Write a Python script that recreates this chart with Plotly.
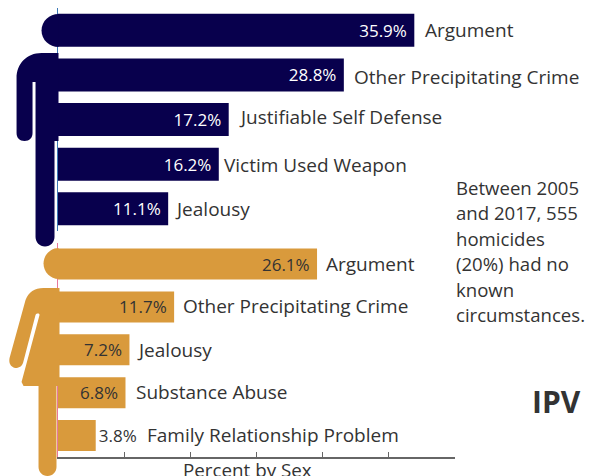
import plotly.graph_objects as go

male_causes = ["Argument", "Other Precipitating Crime", "Justifiable Self Defense", "Victim Used Weapon", "Jealousy"]
male_values = [35.9, 28.8, 17.2, 16.2, 11.1]
female_causes = ["Argument", "Other Precipitating Crime", "Jealousy", "Substance Abuse", "Family Relationship Problem"]
female_values = [26.1, 11.7, 7.2, 6.8, 3.8]
note_lines = ["Between 2005", "and 2017, 555", "homicides", "(20%) had no", "known", "circumstances."]
axis_title = "Percent by Sex"
tag = "IPV"

NAVY = "#08004d"
GOLD = "#d99a3c"
INK = "#333333"
FONT = "Open Sans"
W, H = 590, 476
L, R, T, B = 57.5, 135, 8, 19
male_gap = [11, 10, 10, 5, 7]
female_gap = [9, 9, 8, 11, 51]
male_nudge = [0, -2, 3, -1, 0]
female_nudge = [0, 1, 0, 1, 1]


def fx(x):
    return (x - L) / (W - L - R)


def fy(y):
    return 1 - (y - T) / (H - T - B)


def path(cmds):
    out = []
    for c in cmds:
        if c == "Z":
            out.append("Z")
            continue
        op, pts = c[0], c[1:]
        out.append(op + " ".join("%.5f,%.5f" % (fx(p[0]), fy(p[1])) for p in pts))
    return " ".join(out)


def blob(cmds, color):
    return dict(type="path", xref="paper", yref="paper", path=path(cmds), fillcolor=color,
                line=dict(width=0), layer="above")


man = [
    blob([("M", (58, 14)), ("C", (49, 14), (41, 21), (41, 30.5)), ("C", (41, 40), (49, 47), (58, 47)), "Z"], NAVY),
    blob([("M", (58, 53)), ("L", (41, 53)), ("C", (26, 53), (16, 64), (16, 78)), ("L", (16, 133)),
          ("C", (16, 138), (19, 141), (24, 141)), ("C", (29, 141), (32, 138), (32, 133)), ("L", (32, 82)),
          ("L", (35, 82)), ("L", (35, 237)), ("C", (35, 242), (39, 246.5), (44.5, 246.5)),
          ("C", (50, 246.5), (54, 242), (54, 237)), ("L", (54, 141)), ("L", (58, 141)), "Z"], NAVY),
]
woman = [
    blob([("M", (58, 248)), ("C", (50, 248), (43, 255), (43, 263.5)), ("C", (43, 272), (50, 279), (58, 279)), "Z"], GOLD),
    blob([("M", (59, 288)), ("L", (43, 288)), ("C", (34, 288), (28, 292), (25, 300)), ("L", (9, 358)),
          ("C", (8, 363), (10, 367), (15, 368)), ("C", (19, 368), (22, 366), (23, 361)), ("L", (35, 315)),
          ("C", (36, 313), (39, 313), (39, 315)), ("L", (21, 382)), ("L", (23, 386)), ("L", (38, 386)),
          ("L", (38, 467)), ("C", (38, 472), (42, 476), (47, 476)), ("C", (52, 476), (56, 472), (56, 467)),
          ("L", (56, 386)), ("L", (59, 386)), "Z"], GOLD),
]

fig = go.Figure()
fig.add_trace(go.Bar(x=male_values, y=male_causes, orientation="h", xaxis="x", yaxis="y",
                     marker=dict(color=NAVY, line=dict(width=0)), width=0.74,
                     text=["%.1f%%\u00a0" % v for v in male_values], textposition="inside", insidetextanchor="end",
                     textangle=0, constraintext="none",
                     textfont=dict(family=FONT, size=17, color="white"), hoverinfo="skip"))
fig.add_trace(go.Bar(x=female_values, y=female_causes, orientation="h", xaxis="x2", yaxis="y2",
                     marker=dict(color=GOLD, line=dict(width=0)), width=0.725,
                     text=["%.1f%%\u00a0" % v for v in female_values[:4]] + ["%.1f%%" % female_values[4]],
                     textposition=["inside"] * 4 + ["outside"], insidetextanchor="end", textangle=0,
                     constraintext="none", cliponaxis=False,
                     textfont=dict(family=FONT, size=17, color=INK), hoverinfo="skip"))

ann = []
for cats, vals, gaps, nudges, xa, ya in [(male_causes, male_values, male_gap, male_nudge, "x", "y"),
                                         (female_causes, female_values, female_gap, female_nudge, "x2", "y2")]:
    for c, v, g, n in zip(cats, vals, gaps, nudges):
        ann.append(dict(x=v, y=c, xref=xa, yref=ya, text=c, showarrow=False, xanchor="left", xshift=g - 2,
                        yshift=n, font=dict(family=FONT, size=19, color=INK)))
for i, line in enumerate(note_lines):
    ann.append(dict(x=fx(456), y=fy(187 + i * 25.5), xref="paper", yref="paper", text=line, showarrow=False,
                    xanchor="left", yanchor="middle", xshift=-2, font=dict(family=FONT, size=18.6, color=INK)))

ann.append(dict(x=fx(532), y=fy(401), xref="paper", yref="paper", text="<b>%s</b>" % tag,
                showarrow=False, xanchor="left", yanchor="middle", xshift=-2,
                font=dict(family=FONT, size=30, color=INK)))
ann.append(dict(x=fx(247.5), y=fy(470), xref="paper", yref="paper", text=axis_title, showarrow=False,
                xanchor="center", yanchor="middle", font=dict(family=FONT, size=18.8, color=INK)))

fig.update_layout(
    width=W, height=H, autosize=False, showlegend=False, paper_bgcolor="white", plot_bgcolor="white",
    margin=dict(l=L, r=R, t=T, b=B), barmode="overlay", annotations=ann, shapes=man + woman,
    font=dict(family=FONT, color=INK),
    xaxis=dict(domain=[0, 1], range=[0, 40], anchor="y", visible=False),
    yaxis=dict(domain=[0.503, 1], anchor="x", autorange="reversed", type="category", showticklabels=False,
               ticks="", showline=True, linecolor="#3b78b5", linewidth=1, showgrid=False, zeroline=False),
    xaxis2=dict(domain=[0, 1], range=[0, 40], anchor="y2", tick0=0, dtick=20 / 3, ticks="inside", ticklen=5,
                tickcolor="#666666", showticklabels=False, showline=True, linecolor="#666666", linewidth=1.5,
                showgrid=False, zeroline=False),
    yaxis2=dict(domain=[0, 0.4775], anchor="x2", autorange="reversed", type="category", showticklabels=False,
                ticks="", showline=True, linecolor="#e8789c", linewidth=1, showgrid=False, zeroline=False),
)
fig.write_html("out.html", config=dict(displayModeBar=False),
               post_script="document.body.style.margin='0';document.documentElement.style.overflow='hidden';")
